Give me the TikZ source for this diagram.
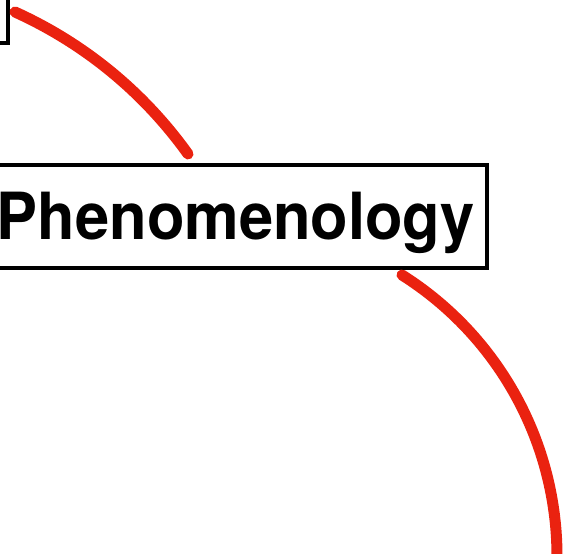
\documentclass[tikz,border=0pt]{standalone}
\usepackage{fontspec}
\setmainfont{TeX Gyre Heros}
\definecolor{penred}{RGB}{234,34,16}
\begin{document}
\begin{tikzpicture}[x=1pt,y=1pt,
    box/.style={draw,line width=4pt,inner sep=0pt},
    stroke/.style={penred,line width=11pt,line cap=round},
    every node/.style={font=\bfseries\fontsize{65}{78}\selectfont}]
    \useasboundingbox (0,0) rectangle (563,554);
    \node[box,anchor=south east,minimum width=200pt,minimum height=90pt] (top) at (9.5,508.5) {};
    \node[box,minimum width=501.5pt,text height=75pt,text depth=28pt] (phen) at (235.75,337.5)
        {\scalebox{.945}[1]{Phenomenology}};
    \coordinate (low) at (557,-4);
    \draw[stroke] ([shift={(5.5,33.5)}]top.south east)
        to[bend left=15,looseness=.87] ([shift={(-47.75,9)}]phen.north);
    \draw[stroke] ([shift={(-86.5,-5)}]phen.south east)
        to[bend left=29,looseness=.91] (low);
\end{tikzpicture}
\end{document}
